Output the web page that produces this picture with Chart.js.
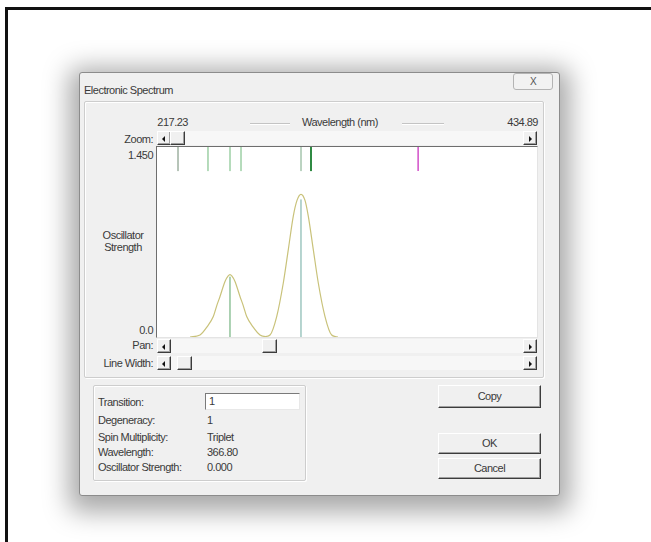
<!DOCTYPE html>
<html>
<head>
<meta charset="utf-8">
<title>Electronic Spectrum</title>
<script src="https://cdn.jsdelivr.net/npm/chart.js@4.4.1/dist/chart.umd.min.js"></script>
<style>
  html, body { margin: 0; padding: 0; }
  body {
    width: 651px; height: 542px; overflow: hidden; position: relative;
    background: #fff;
    font-family: "Liberation Sans", Arial, sans-serif;
    font-size: 11px; letter-spacing: -0.5px; color: #3a3a3a;
  }
  .abs { position: absolute; }
  .frame { left: 5px; top: 7px; width: 700px; height: 600px; border-top: 3px solid #111; border-left: 3px solid #111; }
  .dlg {
    left: 79px; top: 72px; width: 479px; height: 422px;
    background: #f0f0f0; border: 1px solid #8c8c8c; border-radius: 3px;
    box-shadow: 0 6px 26px 10px rgba(0,0,0,0.34);
  }
  .txt { position: absolute; white-space: nowrap; line-height: 12px; }
  .r { text-align: right; }
  .closebtn {
    left: 513px; top: 73px; width: 38px; height: 15px;
    border: 1px solid #b4b4b4; border-radius: 3px; background: #f2f2f2;
    font-size: 10px; line-height: 15px; text-align: center; color: #555;
  }
  .group { border: 1px solid #cdcdcd; border-radius: 2px; box-shadow: inset 1px 1px 0 #fff, 1px 1px 0 #fff; }
  .sep { height: 1px; background: #c4c4c4; border-bottom: 1px solid #fff; }
  .track { background: #f7f7f7; height: 14px; }
  .btn {
    position: absolute; background: #f0f0f0; box-sizing: border-box;
    border: 1px solid; border-color: #fff #3c3c3c #3c3c3c #fff;
    box-shadow: inset -1px -1px 0 #a0a0a0;
  }
  .arrow { width: 14px; height: 14px; }
  .tri-l::after, .tri-r::after {
    content: ""; position: absolute; top: 4px; width: 0; height: 0;
    border-top: 3px solid transparent; border-bottom: 3px solid transparent;
  }
  .tri-l::after { left: 4px; border-right: 3px solid #111; }
  .tri-r::after { left: 5px; border-left: 3px solid #111; }
  .thumb { width: 15px; height: 14px; }
  .plot {
    left: 156px; top: 146px; width: 380px; height: 190px;
    border: 1px solid; border-color: #6e6e6e #e4e4e4 #e4e4e4 #6e6e6e; background: #fff;
  }
  .plot canvas { display: block; }
  .edit {
    left: 205px; top: 393px; width: 95px; height: 17px; box-sizing: border-box;
    background: #fff; border: 1px solid; border-color: #7a7a7a #e8e8e8 #e8e8e8 #7a7a7a;
    padding-left: 3px; line-height: 15px;
  }
  .pbtn { text-align: center; line-height: 18px; }
</style>
</head>
<body>

<div class="abs frame"></div>
<div class="abs dlg"></div>

<!-- title bar -->
<div class="txt" style="left:84px; top:84px;">Electronic Spectrum</div>
<div class="abs closebtn">X</div>

<!-- spectrum panel -->
<div class="abs group" style="left:84px; top:101px; width:458px; height:275px;"></div>
<div class="txt r" style="left:130px; width:58px; top:116px;">217.23</div>
<div class="abs sep" style="left:250px; top:123px; width:40px;"></div>
<div class="txt" style="left:302px; top:116px;">Wavelength (nm)</div>
<div class="abs sep" style="left:402px; top:123px; width:42px;"></div>
<div class="txt r" style="left:480px; width:58px; top:116px;">434.89</div>

<div class="txt r" style="left:100px; width:53px; top:133px;">Zoom:</div>
<div class="abs track" style="left:157px; top:131px; width:380px;"></div>
<div class="btn arrow tri-l" style="left:157px; top:131px;"></div>
<div class="btn thumb" style="left:170px; top:131px;"></div>
<div class="btn arrow tri-r" style="left:523px; top:131px;"></div>

<div class="txt r" style="left:100px; width:53px; top:149px;">1.450</div>
<div class="txt" style="left:98px; top:229px; width:50px; text-align:center;">Oscillator<br>Strength</div>
<div class="txt r" style="left:100px; width:53px; top:324px;">0.0</div>

<div class="abs plot"><canvas id="spectrumChart" width="380" height="190"></canvas></div>

<div class="txt r" style="left:100px; width:53px; top:339px;">Pan:</div>
<div class="abs track" style="left:157px; top:339px; width:380px;"></div>
<div class="btn arrow tri-l" style="left:157px; top:339px;"></div>
<div class="btn thumb" style="left:262px; top:339px;"></div>
<div class="btn arrow tri-r" style="left:523px; top:339px;"></div>

<div class="txt r" style="left:80px; width:73px; top:357px;">Line Width:</div>
<div class="abs track" style="left:157px; top:356px; width:380px;"></div>
<div class="btn arrow tri-l" style="left:157px; top:356px;"></div>
<div class="btn thumb" style="left:177px; top:356px;"></div>
<div class="btn arrow tri-r" style="left:523px; top:356px;"></div>

<!-- transition details -->
<div class="abs group" style="left:93px; top:385px; width:211px; height:94px;"></div>
<div class="txt" style="left:98px; top:396px;">Transition:</div>
<div class="abs edit">1</div>
<div class="txt" style="left:98px; top:414px;">Degeneracy:</div>
<div class="txt" style="left:207px; top:414px;">1</div>
<div class="txt" style="left:98px; top:431px;">Spin Multiplicity:</div>
<div class="txt" style="left:207px; top:431px;">Triplet</div>
<div class="txt" style="left:98px; top:446px;">Wavelength:</div>
<div class="txt" style="left:207px; top:446px;">366.80</div>
<div class="txt" style="left:98px; top:461px;">Oscillator Strength:</div>
<div class="txt" style="left:207px; top:461px;">0.000</div>

<div class="btn pbtn" style="left:438px; top:385px; width:103px; height:23px; line-height:21px;">Copy</div>
<div class="btn pbtn" style="left:438px; top:433px; width:103px; height:21px;">OK</div>
<div class="btn pbtn" style="left:438px; top:458px; width:103px; height:21px;">Cancel</div>

<script>
// ─── Data ─────────────────────────────────────────────
const WL_MIN = 217.23;
const WL_MAX = 434.89;
const OSC_MAX = 1.45;

// calculated transitions (nm) and their marker colours along the top edge
const transitionWl = [229.26, 246.44, 259.05, 265.35, 299.72, 305.44];
const transitionColor = ["#6f8a72", "#6cb878", "#6cb878", "#6cb878", "#78a884", "#2f8a43"];
const transitionWidth = [1, 1, 1, 1, 1, 2];
const selectedWl = 366.80;
const markerBottom = 1.266;

// oscillator strength sticks
const stickWl = [259.04, 299.71];
const stickOsc = [0.46, 1.05];
const stickColor = ["#5aa468", "#6eaaa0"];

// broadened envelope
const envelopeWl = [
  236.13, 241.86, 245.87, 249.48, 251.60, 253.32, 256.18, 257.90, 259.04,
  260.19, 261.91, 264.77, 266.49, 268.61, 272.22, 276.23, 279.40, 281.96, 285.79,
  289.57, 292.44, 295.30, 297.42, 299.71, 302.00, 303.89, 306.76, 309.62, 313.46,
  317.30, 320.91
];
const envelopeOsc = [
  0, 0.015, 0.077, 0.156, 0.245, 0.309, 0.424, 0.464, 0.476,
  0.464, 0.424, 0.309, 0.245, 0.156, 0.077, 0.015, 0.004, 0.015, 0.156,
  0.412, 0.667, 0.923, 1.043, 1.089, 1.043, 0.923, 0.667, 0.412, 0.156,
  0.015, 0
];

// ─── Datasets ─────────────────────────────────────────
const datasets = [];

datasets.push({
  data: envelopeWl.map((x, i) => ({ x, y: envelopeOsc[i] })),
  borderColor: "#c9c27a",
  borderWidth: 1.2,
  cubicInterpolationMode: "monotone",
  pointRadius: 0,
  order: 1
});

stickWl.forEach((x, i) => {
  datasets.push({
    data: [{ x, y: 0 }, { x, y: stickOsc[i] }],
    borderColor: stickColor[i],
    borderWidth: 1,
    pointRadius: 0,
    order: 2
  });
});

transitionWl.forEach((x, i) => {
  datasets.push({
    data: [{ x, y: markerBottom }, { x, y: OSC_MAX }],
    borderColor: transitionColor[i],
    borderWidth: transitionWidth[i],
    pointRadius: 0
  });
});

datasets.push({
  data: [{ x: selectedWl, y: markerBottom }, { x: selectedWl, y: OSC_MAX }],
  borderColor: "#d24fc8",
  borderWidth: 1.5,
  pointRadius: 0
});

// ─── Chart ────────────────────────────────────────────
new Chart(document.getElementById("spectrumChart"), {
  type: "line",
  data: { datasets },
  options: {
    responsive: false,
    animation: false,
    devicePixelRatio: 1,
    layout: { padding: 0 },
    plugins: { legend: { display: false }, tooltip: { enabled: false } },
    scales: {
      x: { type: "linear", min: WL_MIN, max: WL_MAX, display: false },
      y: { type: "linear", min: 0, max: OSC_MAX, display: false }
    }
  }
});
</script>
</body>
</html>
